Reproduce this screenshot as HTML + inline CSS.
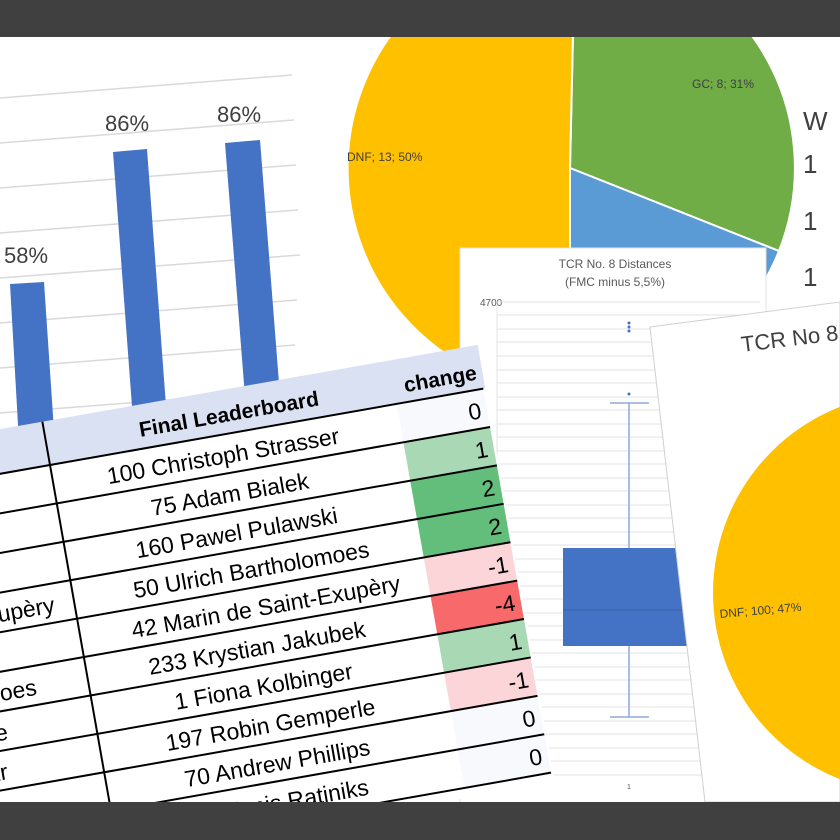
<!DOCTYPE html>
<html><head><meta charset="utf-8"><style>
html,body{margin:0;padding:0;background:#fff;width:840px;height:840px;overflow:hidden}
svg{display:block}
text{font-family:"Liberation Sans",sans-serif}
</style></head><body>
<svg width="840" height="840" viewBox="0 0 840 840" xmlns="http://www.w3.org/2000/svg" overflow="hidden">
<rect width="840" height="840" fill="#fff"/>
<g stroke="#d9d9d9" stroke-width="1.5">
<line x1="0" y1="98" x2="292" y2="75"/>
<line x1="0" y1="143" x2="294" y2="120"/>
<line x1="0" y1="188" x2="296" y2="165"/>
<line x1="0" y1="233" x2="298" y2="210"/>
<line x1="0" y1="278" x2="300" y2="255"/>
<line x1="0" y1="323" x2="297" y2="300"/>
<line x1="0" y1="368" x2="295" y2="345"/>
<line x1="0" y1="413" x2="295" y2="390"/>
</g>
<g fill="#4472c4">
<polygon points="10,284 44,282 56,460 20,460"/>
<polygon points="113,152 147,149 170,460 136,460"/>
<polygon points="225,143 260,140 285,460 250,460"/>
</g>
<g font-size="22" fill="#404040">
<text x="4" y="263">58%</text>
<text x="105" y="131">86%</text>
<text x="217" y="122">86%</text>
</g>
<path d="M570,168 L575,-57 A225,225 0 0 1 779,251 Z" fill="#70ad47" stroke="#fff" stroke-width="2"/>
<path d="M570,168 L779,251 A225,225 0 0 1 570,393 Z" fill="#5b9bd5" stroke="#fff" stroke-width="2"/>
<path d="M570,168 L570,393 A225,225 0 0 1 575,-57 Z" fill="#ffc000" stroke="#fff" stroke-width="2"/>
<text x="347" y="161" font-size="12" fill="#404040">DNF; 13; 50%</text>
<text x="692" y="88" font-size="12" fill="#404040">GC; 8; 31%</text>
<g font-size="26" fill="#404040">
<text x="803" y="130">W</text>
<text x="803" y="173">1</text>
<text x="803" y="230">1</text>
<text x="803" y="286">1</text>
</g>
<rect x="460" y="248" width="306" height="560" fill="#fff" stroke="#e0e0e0"/>
<text x="615" y="268" font-size="12" fill="#595959" text-anchor="middle">TCR No. 8 Distances</text>
<text x="615" y="286" font-size="12" fill="#595959" text-anchor="middle">(FMC minus 5,5%)</text>
<text x="480" y="306" font-size="10" fill="#595959">4700</text>
<g stroke="#e3e3e3" stroke-width="1">
<line x1="497" y1="302" x2="760" y2="302"/><line x1="497" y1="315" x2="760" y2="315"/><line x1="497" y1="329" x2="760" y2="329"/><line x1="497" y1="342" x2="760" y2="342"/><line x1="497" y1="356" x2="760" y2="356"/><line x1="497" y1="370" x2="760" y2="370"/><line x1="497" y1="383" x2="760" y2="383"/><line x1="497" y1="397" x2="760" y2="397"/><line x1="497" y1="410" x2="760" y2="410"/><line x1="497" y1="424" x2="760" y2="424"/><line x1="497" y1="437" x2="760" y2="437"/><line x1="497" y1="451" x2="760" y2="451"/><line x1="497" y1="464" x2="760" y2="464"/><line x1="497" y1="478" x2="760" y2="478"/><line x1="497" y1="491" x2="760" y2="491"/><line x1="497" y1="505" x2="760" y2="505"/><line x1="497" y1="518" x2="760" y2="518"/><line x1="497" y1="532" x2="760" y2="532"/><line x1="497" y1="545" x2="760" y2="545"/><line x1="497" y1="559" x2="760" y2="559"/><line x1="497" y1="572" x2="760" y2="572"/><line x1="497" y1="586" x2="760" y2="586"/><line x1="497" y1="599" x2="760" y2="599"/><line x1="497" y1="613" x2="760" y2="613"/><line x1="497" y1="626" x2="760" y2="626"/><line x1="497" y1="640" x2="760" y2="640"/><line x1="497" y1="653" x2="760" y2="653"/><line x1="497" y1="667" x2="760" y2="667"/><line x1="497" y1="680" x2="760" y2="680"/><line x1="497" y1="694" x2="760" y2="694"/><line x1="497" y1="707" x2="760" y2="707"/><line x1="497" y1="721" x2="760" y2="721"/><line x1="497" y1="734" x2="760" y2="734"/><line x1="497" y1="748" x2="760" y2="748"/><line x1="497" y1="761" x2="760" y2="761"/><line x1="497" y1="775" x2="760" y2="775"/>
<line x1="497" y1="302" x2="497" y2="775"/>
</g>
<g stroke="#8faadc" stroke-width="1.5">
<line x1="629" y1="403" x2="629" y2="717"/>
<line x1="610" y1="403" x2="649" y2="403"/>
<line x1="610" y1="717" x2="649" y2="717"/>
</g>
<polygon points="563,548 677,548 688,646 563,646" fill="#4472c4"/>
<line x1="563" y1="610" x2="684" y2="610" stroke="#3a62ad"/>
<g fill="#4472c4"><circle cx="629" cy="323" r="1.5"/><circle cx="629" cy="327" r="1.5"/><circle cx="629" cy="331" r="1.5"/><circle cx="629" cy="394" r="1.5"/></g>
<text x="629" y="789" font-size="7" fill="#595959" text-anchor="middle">1</text>
<polygon points="650,327 840,302 840,802 705,802" fill="#fff" stroke="#d0d0d0"/>
<circle cx="913" cy="593" r="200" fill="#ffc000"/>
<text x="742" y="352" font-size="22" fill="#404040" transform="rotate(-7 742 352)">TCR No 8 C</text>
<text x="720" y="618" font-size="12" fill="#404040" transform="rotate(-5 720 618)">DNF; 100; 47%</text>
<g transform="translate(50,465) rotate(-10)">
<rect x="-220" y="-44" width="662" height="44" fill="#d9e1f2"/>
<rect x="-220" y="0" width="662" height="400" fill="#fff"/>
<rect x="352" y="0" width="88" height="39" fill="#f8f9fc"/>
<rect x="352" y="39" width="88" height="39" fill="#a9d9b4"/>
<rect x="352" y="78" width="88" height="39" fill="#63be7b"/>
<rect x="352" y="117" width="88" height="39" fill="#63be7b"/>
<rect x="352" y="156" width="88" height="39" fill="#fbd5d8"/>
<rect x="352" y="195" width="88" height="39" fill="#f8696b"/>
<rect x="352" y="234" width="88" height="39" fill="#a9d9b4"/>
<rect x="352" y="273" width="88" height="39" fill="#fbd5d8"/>
<rect x="352" y="312" width="88" height="39" fill="#f8f9fc"/>
<rect x="352" y="351" width="88" height="39" fill="#f8f9fc"/>
<g stroke="#000" stroke-width="2">
<line x1="-220" y1="0" x2="440" y2="0"/><line x1="-220" y1="39" x2="440" y2="39"/><line x1="-220" y1="78" x2="440" y2="78"/><line x1="-220" y1="117" x2="440" y2="117"/><line x1="-220" y1="156" x2="440" y2="156"/><line x1="-220" y1="195" x2="440" y2="195"/><line x1="-220" y1="234" x2="440" y2="234"/><line x1="-220" y1="273" x2="440" y2="273"/><line x1="-220" y1="312" x2="440" y2="312"/><line x1="-220" y1="351" x2="440" y2="351"/><line x1="-220" y1="390" x2="440" y2="390"/>
<line x1="0" y1="-44" x2="0" y2="400"/>
</g>
<text x="185" y="-12" font-size="21" font-weight="bold" text-anchor="middle" fill="#000">Final Leaderboard</text>
<text x="436" y="-10" font-size="21" font-weight="bold" text-anchor="end" fill="#000">change</text>
<g font-size="23" fill="#000" text-anchor="middle">
<text x="172" y="29">100  Christoph Strasser</text>
<text x="172" y="68">75  Adam Bialek</text>
<text x="172" y="107">160  Pawel Pulawski</text>
<text x="180" y="146">50  Ulrich Bartholomoes</text>
<text x="188" y="185">42  Marin de Saint-Exupèry</text>
<text x="172" y="224">233  Krystian Jakubek</text>
<text x="172" y="263">1  Fiona Kolbinger</text>
<text x="172" y="302">197  Robin Gemperle</text>
<text x="172" y="341">70  Andrew Phillips</text>
<text x="172" y="380">45  Arnis Ratiniks</text>
</g>
<g font-size="23" fill="#000" text-anchor="end">
<text x="434" y="29">0</text><text x="434" y="68">1</text><text x="434" y="107">2</text><text x="434" y="146">2</text><text x="434" y="185">-1</text><text x="434" y="224">-4</text><text x="434" y="263">1</text><text x="434" y="302">-1</text><text x="434" y="341">0</text><text x="434" y="380">0</text>
</g>
<g font-size="23" fill="#000" text-anchor="end">
<text x="-20" y="146">Marin de Saint-Exupèry</text>
<text x="-52" y="224">Ulrich Bartholomoes</text>
<text x="-88" y="263">Robin Gemperle</text>
<text x="-95" y="302">Andrew Phillips Kr</text>
</g>
</g>
<rect x="0" y="0" width="840" height="37" fill="#404040"/>
<rect x="0" y="802" width="840" height="38" fill="#404040"/>
</svg>
</body></html>
